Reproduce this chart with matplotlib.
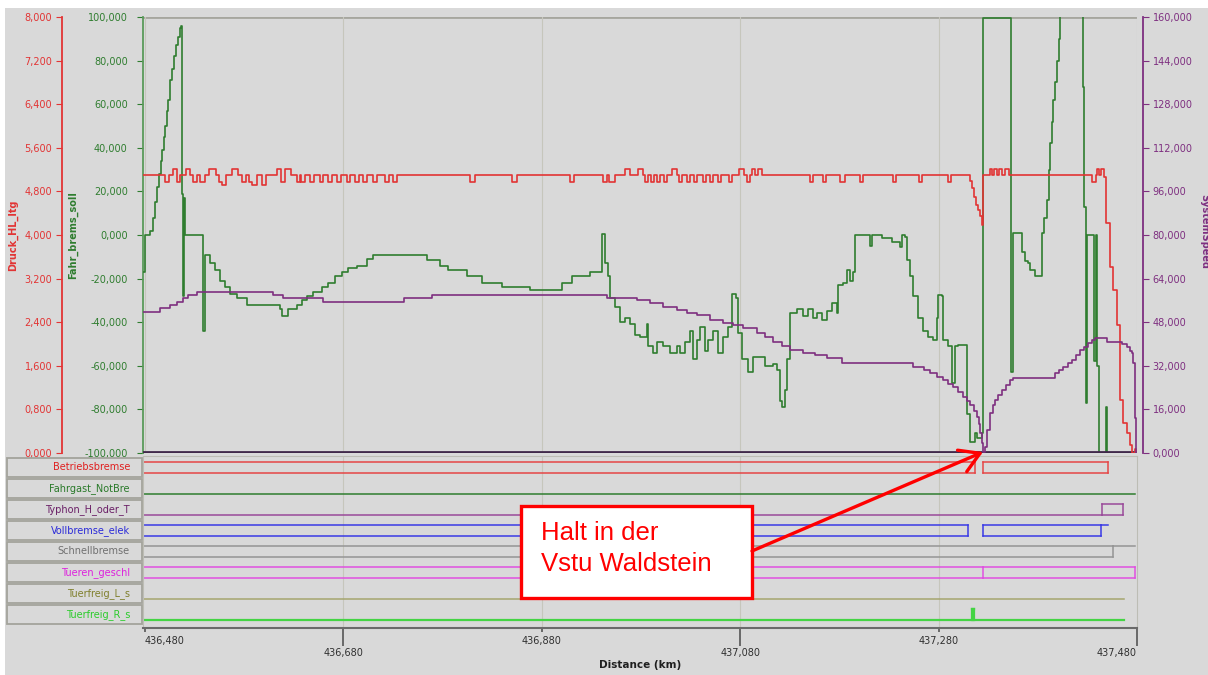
import matplotlib
matplotlib.use("Agg")
import matplotlib.pyplot as plt
import numpy as np
from matplotlib.patches import Rectangle, FancyArrowPatch
from matplotlib.ticker import FuncFormatter

W, H = 1208, 675
BG = '#d9d9d9'
RED = '#e23434'
GREEN = '#2f7d2f'
PURPLE = '#7e2f80'

# ---- data: distance in km ----
km_min, km_max = 436.478, 437.480
x_ticks = [436.48, 436.68, 436.88, 437.08, 437.28, 437.48]

# Druck_HL_ltg (bar)
druck_points = [
    (436.478, 5.10), (436.5002, 4.97), (436.5042, 5.10), (436.5082, 5.21), (436.5123, 4.97),
    (436.5153, 5.10), (436.5213, 5.21), (436.5254, 5.10), (436.5284, 4.97), (436.5324, 5.10),
    (436.5354, 4.97), (436.5405, 5.10), (436.5445, 5.21), (436.5516, 5.10), (436.5546, 4.97),
    (436.5576, 4.92), (436.5616, 5.10), (436.5677, 5.21), (436.5737, 5.10), (436.5778, 4.97),
    (436.5818, 5.10), (436.5848, 4.97), (436.5879, 4.92), (436.5929, 5.10), (436.5979, 4.92),
    (436.6020, 5.10), (436.6131, 5.21), (436.6171, 4.97), (436.6211, 5.21), (436.6272, 5.10),
    (436.6332, 4.97), (436.6362, 5.10),
    (436.6372, 4.97), (436.6413, 5.10), (436.6463, 4.97), (436.6504, 5.10),
    (436.6564, 4.97), (436.6594, 5.10), (436.6645, 4.97), (436.6685, 5.10),
    (436.6735, 4.97), (436.6776, 5.10), (436.6836, 4.97), (436.6866, 5.10),
    (436.6917, 4.97), (436.6957, 5.10), (436.6997, 4.97), (436.7038, 5.10),
    (436.7098, 4.97), (436.7139, 5.10), (436.7219, 4.97), (436.7260, 5.10),
    (436.7300, 4.97), (436.7340, 5.10), (436.8076, 4.97), (436.8126, 5.10),
    (436.8499, 4.97), (436.8550, 5.10), (436.9084, 4.97), (436.9124, 5.10),
    (436.9417, 4.97), (436.9457, 5.10), (436.9477, 4.97), (436.9538, 5.10),
    (436.9638, 5.21), (436.9689, 5.10), (436.9769, 5.21), (436.9820, 5.10),
    (436.9840, 4.97), (436.9870, 5.10), (436.9900, 4.97), (436.9931, 5.10),
    (436.9961, 4.97), (436.9991, 5.10), (437.0032, 4.97), (437.0062, 5.10),
    (437.0112, 5.21), (437.0163, 5.10), (437.0183, 4.97), (437.0213, 5.10),
    (437.0263, 4.97), (437.0294, 5.10), (437.0334, 4.97), (437.0364, 5.10),
    (437.0425, 4.97), (437.0455, 5.10), (437.0495, 4.97), (437.0525, 5.10),
    (437.0576, 4.97), (437.0606, 5.10), (437.0686, 4.97), (437.0717, 5.10),
    (437.0787, 5.21), (437.0838, 5.10), (437.0868, 4.97), (437.0898, 5.10),
    (437.0918, 5.21), (437.0948, 5.10), (437.0979, 5.21), (437.1019, 5.10),
    (437.1503, 4.97), (437.1533, 5.10), (437.1634, 4.97), (437.1664, 5.10),
    (437.1806, 4.97), (437.1856, 5.10), (437.2007, 4.97), (437.2037, 5.10),
    (437.2340, 4.97), (437.2370, 5.10), (437.2602, 4.97), (437.2632, 5.10),
    (437.2894, 4.97), (437.2924, 5.10),
    (437.3116, 5.00), (437.3136, 4.86), (437.3156, 4.70), (437.3177, 4.55),
    (437.3197, 4.45), (437.3217, 4.35), (437.3237, 4.18), (437.3247, 5.10),
    (437.3318, 5.21), (437.3338, 5.10), (437.3358, 5.21), (437.3388, 5.10),
    (437.3408, 5.21), (437.3439, 5.10), (437.3469, 5.21), (437.3509, 5.10),
    (437.4346, 4.97), (437.4386, 5.10), (437.4396, 5.21), (437.4416, 5.10),
    (437.4436, 5.21), (437.4467, 5.06), (437.4487, 4.22), (437.4527, 3.41),
    (437.4557, 3.00), (437.4598, 2.35), (437.4628, 0.97), (437.4658, 0.55),
    (437.4699, 0.37), (437.4729, 0.15), (437.4749, 0.00), (437.4779, 0.08),
    (437.4789, 0.00), (437.480, 0.00),
]

# Fahr_brems_soll (%)
brems_points = [
    (436.478, -17), (436.480, 0), (436.485, 2), (436.488, 8), (436.490, 15), (436.492, 22),
    (436.494, 28), (436.496, 34), (436.497, 39), (436.499, 45), (436.500, 50), (436.502, 57),
    (436.503, 62), (436.505, 71), (436.507, 76), (436.509, 82), (436.511, 87), (436.513, 91),
    (436.515, 95), (436.516, 96), (436.517, 19), (436.518, -28), (436.519, 17), (436.520, 0),
    (436.5385, -44), (436.5405, -9), (436.5455, -13), (436.5506, -16), (436.5556, -21),
    (436.5606, -24), (436.5657, -27), (436.5727, -29), (436.5828, -32), (436.6161, -34),
    (436.6181, -37), (436.6241, -34), (436.6332, -32), (436.6383, -30), (436.6433, -28),
    (436.6493, -26), (436.6584, -24), (436.6645, -22), (436.6715, -19), (436.6786, -17),
    (436.6846, -15), (436.6937, -14), (436.7038, -11), (436.7098, -9), (436.7643, -11.5),
    (436.7774, -14), (436.7854, -16), (436.8046, -19), (436.8197, -22), (436.8399, -24),
    (436.8681, -25), (436.9003, -22), (436.9104, -19), (436.9286, -17), (436.9407, 0.5),
    (436.9437, -13), (436.9467, -19), (436.9487, -29), (436.9538, -33), (436.9588, -40),
    (436.9638, -38), (436.9689, -41), (436.9739, -46), (436.9790, -47), (436.9860, -41),
    (436.9870, -51), (436.9921, -54), (436.9961, -49), (437.0021, -51), (437.0092, -54),
    (437.0163, -51), (437.0193, -54), (437.0243, -49), (437.0294, -44), (437.0324, -57),
    (437.0364, -48), (437.0394, -42), (437.0445, -53), (437.0475, -48), (437.0525, -44),
    (437.0576, -54), (437.0626, -47), (437.0677, -42), (437.0717, -27), (437.0757, -29),
    (437.0777, -45), (437.0818, -57), (437.0878, -63), (437.0929, -56), (437.1019, -56),
    (437.1050, -60), (437.1130, -59), (437.1171, -62), (437.1201, -76), (437.1221, -79),
    (437.1251, -71), (437.1271, -57), (437.1302, -36), (437.1372, -34), (437.1433, -37),
    (437.1483, -34), (437.1533, -38), (437.1574, -36), (437.1624, -39), (437.1675, -35),
    (437.1725, -31), (437.1775, -36), (437.1785, -23), (437.1836, -22), (437.1876, -16),
    (437.1906, -21), (437.1937, -17), (437.1957, 0), (437.2108, -5), (437.2128, 0),
    (437.2229, -1.5), (437.2330, -3), (437.2410, -5.5), (437.2431, 0), (437.2461, -1),
    (437.2481, -11.5), (437.2511, -19), (437.2541, -28), (437.2592, -38), (437.2642, -44),
    (437.2693, -47), (437.2743, -48), (437.2783, -38), (437.2793, -27.5), (437.2834, -28),
    (437.2844, -48), (437.2894, -51), (437.2935, -68), (437.2965, -51), (437.2995, -50.5),
    (437.3066, -50.5), (437.3086, -82), (437.3116, -95), (437.3166, -91), (437.3187, -93),
    (437.3237, -91), (437.3247, 99.5), (437.3529, -63), (437.3549, 1), (437.3640, -8),
    (437.3670, -12), (437.3701, -13), (437.3721, -16), (437.3771, -19), (437.3842, 1),
    (437.3862, 8), (437.3892, 16), (437.3912, 30), (437.3922, 42), (437.3943, 52),
    (437.3953, 62), (437.3973, 70), (437.3993, 80), (437.4013, 90), (437.4023, 120),
    (437.4255, 68), (437.4265, 13), (437.4285, -77), (437.4295, 0), (437.4366, -58),
    (437.4386, 0), (437.4396, -60), (437.4416, -100), (437.4487, -79), (437.4497, -100),
    (437.480, -100),
]

# SystemSpeed (km/h)
speed_points = [
    (436.478, 51.7), (436.4951, 53.2), (436.5052, 54.3), (436.5123, 55.4), (436.5183, 56.9),
    (436.5233, 58.0), (436.5324, 59.0), (436.6090, 58.0), (436.6191, 56.9), (436.6594, 55.4),
    (436.7411, 56.9), (436.7693, 58.0), (436.9457, 56.9), (436.9759, 56.0), (436.9890, 55.0),
    (437.0021, 53.6), (437.0163, 52.5), (437.0263, 51.5), (437.0364, 50.6), (437.0495, 48.8),
    (437.0626, 47.7), (437.0727, 46.8), (437.0828, 45.9), (437.0969, 44.0), (437.1050, 42.5),
    (437.1130, 40.7), (437.1221, 39.2), (437.1302, 37.8), (437.1433, 36.7), (437.1554, 35.8),
    (437.1675, 34.9), (437.1826, 33.0), (437.2541, 31.6), (437.2652, 30.5), (437.2713, 29.4),
    (437.2783, 28.0), (437.2844, 26.8), (437.2894, 25.5), (437.2945, 24.2), (437.2995, 22.5),
    (437.3045, 20.6), (437.3086, 19.0), (437.3116, 17.6), (437.3156, 15.5), (437.3187, 13.2),
    (437.3207, 10.5), (437.3217, 7.3), (437.3237, 3.5), (437.3247, 0.4), (437.3267, 2.2),
    (437.3287, 8.4), (437.3318, 14.7), (437.3348, 17.5), (437.3368, 19.4), (437.3398, 21.2),
    (437.3439, 23.0), (437.3479, 25.0), (437.3519, 26.8), (437.3549, 27.5), (437.3973, 29.4),
    (437.4013, 30.5), (437.4053, 31.6), (437.4104, 33.0), (437.4144, 34.0), (437.4184, 36.0),
    (437.4225, 37.8), (437.4265, 39.0), (437.4305, 40.4), (437.4346, 41.5), (437.4376, 42.2),
    (437.4497, 40.7), (437.4649, 40.0), (437.4699, 38.9), (437.4729, 37.5), (437.4749, 36.7),
    (437.4759, 33.0), (437.4779, 13.0), (437.4789, 0.0), (437.480, 0.0),
]

# digital signals: edges in km, state per interval (0 low, 1 high, 2 both, -1 none)
signal_names = ['Betriebsbremse', 'Fahrgast_NotBre', 'Typhon_H_oder_T', 'Vollbremse_elek',
                'Schnellbremse', 'Tueren_geschl', 'Tuerfreig_L_s', 'Tuerfreig_R_s']
betriebs_edges = [436.478, 437.3167, 437.3248, 437.4508]
betriebs_states = [2, -1, 2]
notbremse_edges = [436.478, 437.478]
notbremse_states = [0]
typhon_edges = [436.478, 437.4447, 437.4659]
typhon_states = [0, 2]
vollbremse_edges = [436.478, 437.3096, 437.3248, 437.4437, 437.4508]
vollbremse_states = [2, -1, 2, 1]
schnell_edges = [436.478, 437.4558, 437.478]
schnell_states = [2, 1]
tueren_edges = [436.478, 437.3248, 437.478]
tueren_states = [2, 2]
tuerL_edges = [436.478, 437.4669]
tuerL_states = [0]
tuerR_edges = [436.478, 437.3140, 437.3155, 437.4669]
tuerR_states = [0, 1, 0]

signal_colors = ['#e54646', '#2f7d2f', '#9a4a9a', '#3a3ae6', '#959595', '#e050e0', '#a5a56e', '#44d444']
label_colors = ['#e02020', '#2a7a2a', '#6a1f66', '#2a2ad8', '#707070', '#dd22dd', '#80802e', '#2ccc2c']


def comma(v, pos=None):
    return f"{v:.3f}".replace('.', ',')


def fpos(x, y):
    return (x / W, 1 - y / H)


fig = plt.figure(figsize=(W / 100, H / 100), dpi=100)
fig.patch.set_facecolor('white')
fig.add_artist(Rectangle((5 / W, 0), 1, 1 - 8 / H, transform=fig.transFigure,
                         facecolor=BG, edgecolor='none', zorder=-10))

# ---- main chart ----
ax = fig.add_axes([143 / W, 1 - 453 / H, 994 / W, 436 / H])
ax.set_facecolor(BG)
ax.set_xlim(km_min, km_max)
ax.set_ylim(-100, 100)
ax.set_xticks(x_ticks)
ax.tick_params(axis='x', bottom=False, labelbottom=False)
ax.grid(axis='x', color='#c6c6bc', lw=0.8)
ax.set_yticks(np.arange(-100, 101, 20))
ax.yaxis.set_major_formatter(FuncFormatter(comma))
ax.tick_params(axis='y', colors=GREEN, labelsize=7, length=4, pad=7)
for s in ['top', 'right', 'bottom']:
    ax.spines[s].set_visible(False)
ax.spines['left'].set_color('#5a9a5a')
ax.spines['left'].set_linewidth(1.3)
ax.axhline(100, color='#a6a69e', lw=2.0, zorder=1)

bx, bv = zip(*brems_points)
ax.plot(bx, bv, drawstyle='steps-post', color=GREEN, lw=1.2, zorder=3)
ax.axhline(-99.4, color='#40284a', lw=2.0, zorder=4)

ax_r = ax.twinx()
ax_r.set_xlim(km_min, km_max)
ax_r.set_ylim(0, 8)
ax_r.yaxis.tick_left()
ax_r.set_yticks(np.linspace(0, 8, 11))
ax_r.yaxis.set_major_formatter(FuncFormatter(comma))
ax_r.tick_params(axis='y', colors=RED, labelsize=7, length=4, pad=3)
for s in ['top', 'right', 'bottom']:
    ax_r.spines[s].set_visible(False)
ax_r.spines['left'].set_position(('outward', 81 * 0.72))
ax_r.spines['left'].set_color(RED)
ax_r.spines['left'].set_linewidth(1.3)
dx, dv = zip(*druck_points)
ax_r.plot(dx, dv, drawstyle='steps-post', color=RED, lw=1.2)

ax_p = ax.twinx()
ax_p.set_xlim(km_min, km_max)
ax_p.set_ylim(0, 160)
ax_p.set_yticks(np.arange(0, 161, 16))
ax_p.yaxis.set_major_formatter(FuncFormatter(comma))
ax_p.tick_params(axis='y', colors=PURPLE, labelsize=7, length=4, pad=3)
for s in ['top', 'left', 'bottom']:
    ax_p.spines[s].set_visible(False)
ax_p.spines['right'].set_position(('outward', 6 * 0.72))
ax_p.spines['right'].set_color(PURPLE)
ax_p.spines['right'].set_linewidth(1.3)
sx, sv = zip(*speed_points)
ax_p.plot(sx, sv, drawstyle='steps-post', color=PURPLE, lw=1.2)

fig.text(*fpos(13, 235), 'Druck_HL_ltg', rotation=90, ha='center', va='center',
         fontsize=7, fontweight='bold', color=RED)
fig.text(*fpos(73, 235), 'Fahr_brems_soll', rotation=90, ha='center', va='center',
         fontsize=7, fontweight='bold', color=GREEN)
fig.text(*fpos(1204, 232), 'SystemSpeed', rotation=-90, ha='center', va='center',
         fontsize=7, fontweight='bold', color=PURPLE)

# ---- digital signal panel ----
ax2 = fig.add_axes([143 / W, 1 - 628 / H, 994 / W, 172 / H])
ax2.set_facecolor(BG)
ax2.set_xlim(km_min, km_max)
ax2.set_ylim((628 - 457) / 21, (456 - 457) / 21)
ax2.set_yticks([])
for s in ['top', 'right', 'left']:
    ax2.spines[s].set_color('#bdbdb5')
ax2.spines['bottom'].set_color('#6a6a6a')
ax2.spines['bottom'].set_linewidth(1.5)
ax2.set_xticks(x_ticks[0::2])
ax2.set_xticks(x_ticks[1::2], minor=True)
ax2.tick_params(axis='x', which='major', length=3, width=1.2, color='#555555', labelbottom=False)
ax2.tick_params(axis='x', which='minor', length=13, width=1.2, color='#555555', labelbottom=False)
for xv in x_ticks[1:-1]:
    ax2.axvline(xv, color='#c6c6bc', lw=0.8, zorder=0)

for i, xv in enumerate(x_ticks):
    ha = 'left' if i == 0 else ('right' if i == len(x_ticks) - 1 else 'center')
    off = -14.5 if i % 2 else -6
    ax2.annotate(comma(xv), xy=(xv, 0), xycoords=('data', 'axes fraction'),
                 xytext=(0, off), textcoords='offset points', ha=ha, va='top',
                 fontsize=7, color='#303030', annotation_clip=False)

signal_edges = [betriebs_edges, notbremse_edges, typhon_edges, vollbremse_edges,
                schnell_edges, tueren_edges, tuerL_edges, tuerR_edges]
signal_states = [betriebs_states, notbremse_states, typhon_states, vollbremse_states,
                 schnell_states, tueren_states, tuerL_states, tuerR_states]

for row, (edges, states, col) in enumerate(zip(signal_edges, signal_states, signal_colors)):
    hi, lo = row + 0.25, row + 0.75
    lw = 1.6 if row == 7 else 1.1
    for k, st in enumerate(states):
        x0, x1 = edges[k], edges[k + 1]
        prev = states[k - 1] if k > 0 else -1
        if st in (1, 2):
            ax2.plot([x0, x1], [hi, hi], color=col, lw=lw)
        if st in (0, 2):
            ax2.plot([x0, x1], [lo, lo], color=col, lw=lw)
        if st == 2 or prev == 2 or {st, prev} == {0, 1}:
            ax2.plot([x0, x0], [hi, lo], color=col, lw=lw)
    if states[-1] == 2:
        ax2.plot([edges[-1], edges[-1]], [hi, lo], color=col, lw=lw)

    top = 457 + 21 * row + 1
    fig.add_artist(Rectangle(fpos(7, top + 19), 135 / W, 19 / H, transform=fig.transFigure,
                             facecolor=BG, edgecolor='#a3a39b', lw=1.3))
    fig.text(*fpos(130, top + 9.5), signal_names[row], ha='right', va='center',
             fontsize=7, color=label_colors[row])

fig.text(*fpos(640, 665), 'Distance (km)', ha='center', va='center',
         fontsize=7.5, fontweight='bold', color='#202020')

# ---- annotation ----
fig.add_artist(Rectangle(fpos(521, 598), 231 / W, 92 / H, transform=fig.transFigure,
                         facecolor='white', edgecolor='#ff0000', lw=2.4, zorder=5))
fig.text(*fpos(541, 533), 'Halt in der', ha='left', va='center', fontsize=18.5,
         color='#ff0000', family='Liberation Sans', zorder=6)
fig.text(*fpos(541, 564), 'Vstu Waldstein', ha='left', va='center', fontsize=18.5,
         color='#ff0000', family='Liberation Sans', zorder=6)
fig.add_artist(FancyArrowPatch(fpos(752, 551), fpos(983, 452), transform=fig.transFigure,
                               arrowstyle='->,head_length=0.5,head_width=0.3', mutation_scale=28,
                               color='#ff0000', lw=2.4, shrinkA=0, shrinkB=0, zorder=6))

fig.savefig('out.png', dpi=100, facecolor=fig.get_facecolor())
